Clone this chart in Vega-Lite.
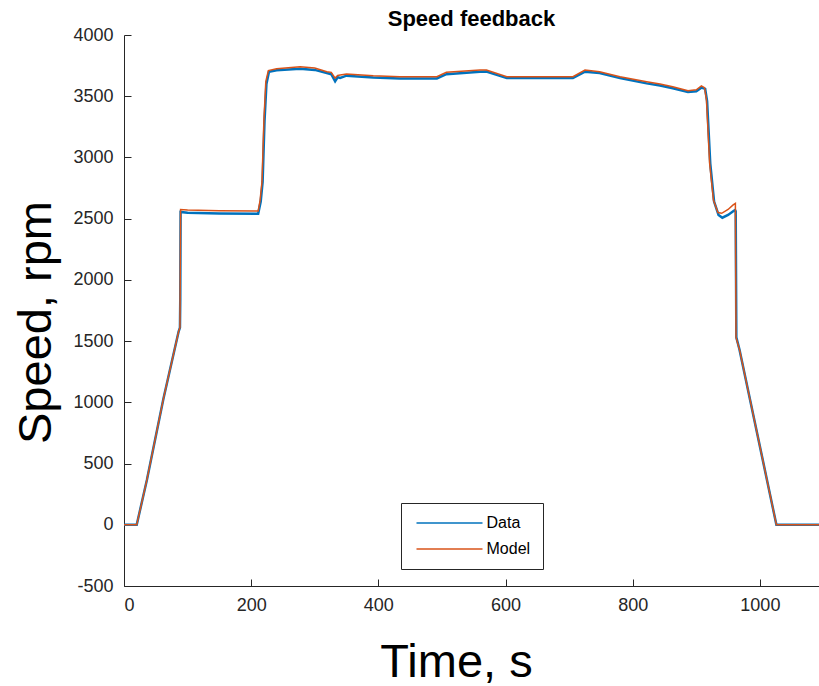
{
  "$schema": "https://vega.github.io/schema/vega-lite/v6.json",
  "width": 695,
  "height": 551,
  "autosize": {"type": "none"},
  "padding": {"left": 124, "top": 35, "right": 0, "bottom": 100},
  "background": "white",
  "title": {"text": "Speed feedback", "fontSize": 22, "fontWeight": "bold", "font": "Liberation Sans", "color": "#000000", "offset": 8, "dy": 13, "anchor": "middle"},
  "config": {
    "view": {"stroke": null},
    "axis": {
      "grid": false,
      "domainColor": "#262626",
      "domainWidth": 1,
      "labelFont": "Liberation Sans",
      "labelFontSize": 18,
      "labelColor": "#262626",
      "labelExpr": "'' + datum.value",
      "titleFont": "Liberation Sans",
      "titleFontSize": 47,
      "titleFontWeight": "normal",
      "titleColor": "#000000"
    }
  },
  "data": {
    "values": [
      {"series": "Data", "t": 0, "speed": 0},
      {"series": "Data", "t": 20, "speed": 0},
      {"series": "Data", "t": 36, "speed": 366},
      {"series": "Data", "t": 62, "speed": 1030},
      {"series": "Data", "t": 86, "speed": 1580},
      {"series": "Data", "t": 88, "speed": 1610},
      {"series": "Data", "t": 88.5, "speed": 1850},
      {"series": "Data", "t": 89, "speed": 2555},
      {"series": "Data", "t": 100, "speed": 2548},
      {"series": "Data", "t": 150, "speed": 2543},
      {"series": "Data", "t": 211, "speed": 2540},
      {"series": "Data", "t": 215, "speed": 2640},
      {"series": "Data", "t": 218, "speed": 2800},
      {"series": "Data", "t": 221, "speed": 3300},
      {"series": "Data", "t": 224, "speed": 3600},
      {"series": "Data", "t": 228, "speed": 3700},
      {"series": "Data", "t": 240, "speed": 3712},
      {"series": "Data", "t": 277, "speed": 3725},
      {"series": "Data", "t": 300, "speed": 3715},
      {"series": "Data", "t": 319, "speed": 3690},
      {"series": "Data", "t": 326, "speed": 3680},
      {"series": "Data", "t": 332, "speed": 3622},
      {"series": "Data", "t": 336, "speed": 3655},
      {"series": "Data", "t": 340, "speed": 3650},
      {"series": "Data", "t": 350, "speed": 3668},
      {"series": "Data", "t": 392, "speed": 3652},
      {"series": "Data", "t": 434, "speed": 3645},
      {"series": "Data", "t": 492, "speed": 3645},
      {"series": "Data", "t": 507, "speed": 3680},
      {"series": "Data", "t": 560, "speed": 3700},
      {"series": "Data", "t": 570, "speed": 3702},
      {"series": "Data", "t": 602, "speed": 3648},
      {"series": "Data", "t": 706, "speed": 3648},
      {"series": "Data", "t": 725, "speed": 3700},
      {"series": "Data", "t": 748, "speed": 3690},
      {"series": "Data", "t": 780, "speed": 3648},
      {"series": "Data", "t": 822, "speed": 3605},
      {"series": "Data", "t": 843, "speed": 3588},
      {"series": "Data", "t": 863, "speed": 3565},
      {"series": "Data", "t": 887, "speed": 3535},
      {"series": "Data", "t": 900, "speed": 3540},
      {"series": "Data", "t": 908, "speed": 3570},
      {"series": "Data", "t": 914, "speed": 3560},
      {"series": "Data", "t": 917, "speed": 3460},
      {"series": "Data", "t": 922, "speed": 2950},
      {"series": "Data", "t": 928, "speed": 2640},
      {"series": "Data", "t": 935, "speed": 2530},
      {"series": "Data", "t": 941, "speed": 2508},
      {"series": "Data", "t": 950, "speed": 2530},
      {"series": "Data", "t": 958, "speed": 2560},
      {"series": "Data", "t": 961, "speed": 2570},
      {"series": "Data", "t": 962, "speed": 2560},
      {"series": "Data", "t": 963, "speed": 1530},
      {"series": "Data", "t": 968, "speed": 1430},
      {"series": "Data", "t": 1026, "speed": 0},
      {"series": "Data", "t": 1093, "speed": 0},
      {"series": "Model", "t": 0, "speed": 0},
      {"series": "Model", "t": 20, "speed": 0},
      {"series": "Model", "t": 36, "speed": 366},
      {"series": "Model", "t": 62, "speed": 1030},
      {"series": "Model", "t": 86, "speed": 1580},
      {"series": "Model", "t": 88, "speed": 1610},
      {"series": "Model", "t": 89, "speed": 2575},
      {"series": "Model", "t": 100, "speed": 2570},
      {"series": "Model", "t": 150, "speed": 2565},
      {"series": "Model", "t": 211, "speed": 2562},
      {"series": "Model", "t": 214, "speed": 2650},
      {"series": "Model", "t": 217, "speed": 2800},
      {"series": "Model", "t": 220, "speed": 3300},
      {"series": "Model", "t": 223, "speed": 3620},
      {"series": "Model", "t": 227, "speed": 3710},
      {"series": "Model", "t": 240, "speed": 3725},
      {"series": "Model", "t": 277, "speed": 3740},
      {"series": "Model", "t": 300, "speed": 3730},
      {"series": "Model", "t": 319, "speed": 3700},
      {"series": "Model", "t": 326, "speed": 3695},
      {"series": "Model", "t": 332, "speed": 3648},
      {"series": "Model", "t": 336, "speed": 3670},
      {"series": "Model", "t": 340, "speed": 3673},
      {"series": "Model", "t": 350, "speed": 3681},
      {"series": "Model", "t": 392, "speed": 3667},
      {"series": "Model", "t": 434, "speed": 3659},
      {"series": "Model", "t": 492, "speed": 3659},
      {"series": "Model", "t": 507, "speed": 3696},
      {"series": "Model", "t": 560, "speed": 3714},
      {"series": "Model", "t": 570, "speed": 3714},
      {"series": "Model", "t": 602, "speed": 3659},
      {"series": "Model", "t": 706, "speed": 3659},
      {"series": "Model", "t": 725, "speed": 3714},
      {"series": "Model", "t": 748, "speed": 3700},
      {"series": "Model", "t": 780, "speed": 3659},
      {"series": "Model", "t": 822, "speed": 3619},
      {"series": "Model", "t": 843, "speed": 3600},
      {"series": "Model", "t": 863, "speed": 3578},
      {"series": "Model", "t": 887, "speed": 3545},
      {"series": "Model", "t": 900, "speed": 3552},
      {"series": "Model", "t": 908, "speed": 3584},
      {"series": "Model", "t": 913, "speed": 3570},
      {"series": "Model", "t": 916, "speed": 3469},
      {"series": "Model", "t": 921, "speed": 2952},
      {"series": "Model", "t": 927, "speed": 2652},
      {"series": "Model", "t": 934, "speed": 2550},
      {"series": "Model", "t": 940, "speed": 2544},
      {"series": "Model", "t": 950, "speed": 2575},
      {"series": "Model", "t": 958, "speed": 2612},
      {"series": "Model", "t": 961.5, "speed": 2625},
      {"series": "Model", "t": 962.5, "speed": 1530},
      {"series": "Model", "t": 968, "speed": 1430},
      {"series": "Model", "t": 1026, "speed": 0},
      {"series": "Model", "t": 1093, "speed": 0}
    ]
  },
  "encoding": {
    "color": {
      "field": "series",
      "type": "nominal",
      "scale": {"domain": ["Data", "Model"], "range": ["#0072BD", "#D95319"]},
      "legend": {
        "orient": "none",
        "legendX": 277,
        "legendY": 468,
        "title": null,
        "strokeColor": "#262626",
        "fillColor": "white",
        "padding": 12,
        "symbolType": "M-6,0H6",
        "symbolSize": 121,
        "symbolOffset": 28.5,
        "labelOffset": 29,
        "symbolStrokeWidth": 1.5,
        "labelFont": "Liberation Sans",
        "labelFontSize": 16,
        "labelColor": "#000000",
        "rowPadding": 10,
        "cornerRadius": 0
      }
    }
  },
  "layer": [
    {
      "transform": [{"filter": "datum.series === 'Data'"}],
      "mark": {"type": "line", "clip": true, "strokeWidth": 2.5},
      "encoding": {
        "x": {
          "field": "t",
          "type": "quantitative",
          "scale": {"domain": [0, 1093], "nice": false, "zero": false},
          "axis": {"values": [0, 200, 400, 600, 800, 1000], "ticks": false, "title": "Time, s", "labelPadding": 10, "titleX": 332, "titleY": 90, "titleAlign": "center", "titleBaseline": "alphabetic"}
        },
        "y": {
          "field": "speed",
          "type": "quantitative",
          "scale": {"domain": [-500, 4000], "nice": false, "zero": false},
          "axis": {"values": [-500, 0, 500, 1000, 1500, 2000, 2500, 3000, 3500, 4000], "ticks": false, "title": "Speed, rpm", "labelPadding": 11, "titleX": -74, "titleY": 287, "titleAlign": "center", "titleBaseline": "alphabetic", "titleAngle": -90}
        }
      }
    },
    {
      "transform": [{"filter": "datum.series === 'Model'"}],
      "mark": {"type": "line", "clip": true, "strokeWidth": 1.5},
      "encoding": {
        "x": {
          "field": "t",
          "type": "quantitative",
          "scale": {"domain": [0, 1093], "nice": false, "zero": false},
          "axis": {"orient": "top", "offset": -551, "values": [0, 200, 400, 600, 800, 1000], "labels": false, "domain": false, "ticks": true, "tickSize": 7, "tickWidth": 1, "tickColor": "#262626", "title": null}
        },
        "y": {
          "field": "speed",
          "type": "quantitative",
          "scale": {"domain": [-500, 4000], "nice": false, "zero": false},
          "axis": {"orient": "right", "offset": -695, "values": [-500, 0, 500, 1000, 1500, 2000, 2500, 3000, 3500, 4000], "labels": false, "domain": false, "ticks": true, "tickSize": 7, "tickWidth": 1, "tickColor": "#262626", "title": null}
        }
      }
    }
  ],
  "resolve": {"scale": {"x": "independent", "y": "independent"}, "axis": {"x": "independent", "y": "independent"}}
}
